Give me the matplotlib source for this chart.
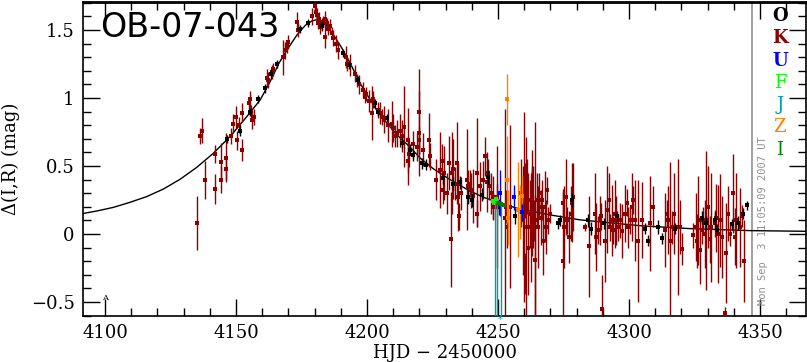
import numpy as np
import matplotlib
matplotlib.use("Agg")
import matplotlib.pyplot as plt
from matplotlib.ticker import MultipleLocator, FuncFormatter

# ---------------- data ----------------
model_t = [4090.5, 4096.8, 4103.2, 4109.5, 4115.9, 4122.3, 4128.6, 4135.0, 4141.3, 4147.7,
           4154.1, 4159.2, 4163.0, 4166.5, 4170.0, 4173.5, 4176.5, 4178.8, 4180.5, 4182.3,
           4184.6, 4187.0, 4190.0, 4193.5, 4197.3, 4200.5, 4203.7, 4207.0, 4210.0, 4213.0,
           4216.4, 4220.2, 4225.3, 4231.7, 4238.0, 4244.4, 4250.8, 4257.1, 4264.8, 4270.0,
           4281.0, 4294.0, 4305.0, 4323.0, 4346.0, 4367.6]
model_m = [0.147, 0.169, 0.196, 0.233, 0.275, 0.331, 0.402, 0.490, 0.593, 0.716,
           0.863, 0.985, 1.12, 1.26, 1.37, 1.47, 1.535, 1.565, 1.575, 1.565,
           1.53, 1.47, 1.38, 1.26, 1.11, 1.01, 0.91, 0.83, 0.76, 0.70,
           0.64, 0.56, 0.48, 0.40, 0.33, 0.27, 0.23, 0.19, 0.16, 0.14,
           0.105, 0.08, 0.06, 0.04, 0.025, 0.02]

K_t = [4135.2, 4136.3, 4137.1, 4138.2, 4142.1, 4142.1, 4144.1, 4144.3, 4146.1, 4146.3,
       4148.1, 4149.0, 4150.0, 4150.3, 4151.3, 4152.2, 4152.2, 4155.1, 4155.3, 4155.7,
       4156.2, 4157.0, 4161.7, 4162.3, 4163.6, 4164.2, 4168.0, 4168.7, 4169.3, 4170.0,
       4173.2, 4173.8, 4180.2, 4180.5, 4180.8, 4181.4, 4181.8, 4182.7, 4183.3, 4184.0,
       4184.6, 4185.2, 4186.5, 4187.1, 4189.0, 4192.0, 4192.5, 4195.4, 4196.1, 4198.6,
       4199.2, 4199.8, 4202.0, 4202.4, 4204.3, 4205.0, 4205.6, 4209.4, 4210.0, 4210.7,
       4211.3, 4212.6, 4214.2, 4215.8, 4215.8, 4216.2, 4219.0, 4219.8, 4220.0, 4220.0,
       4223.8, 4224.0, 4227.9, 4228.5, 4228.9, 4231.4, 4231.9, 4232.3, 4233.6, 4234.2,
       4234.9, 4235.2, 4238.0, 4238.7, 4239.3, 4239.6, 4241.9, 4242.1, 4244.4, 4245.0,
       4246.3, 4246.7, 4248.0, 4248.2, 4249.5, 4249.7, 4252.7, 4253.0, 4253.3, 4254.6,
       4259.9, 4260.3, 4260.7, 4260.3, 4261.6, 4262.2, 4262.8, 4263.5, 4264.1, 4264.8,
       4262.8, 4263.7, 4264.1, 4265.8, 4267.9, 4268.6, 4269.2, 4269.8, 4274.7, 4274.9,
       4275.9, 4276.4, 4277.2, 4278.1, 4278.7, 4283.2, 4284.8, 4287.6, 4288.3, 4288.9,
       4289.5, 4289.9, 4291.7, 4292.7, 4293.4, 4294.0, 4295.0, 4295.9, 4296.5, 4298.5,
       4299.1, 4300.4, 4301.0, 4301.6, 4303.5, 4304.8, 4308.0, 4313.7, 4314.4, 4315.7,
       4316.3, 4318.8, 4319.5, 4320.1, 4324.5, 4326.5, 4327.1, 4327.7, 4328.4, 4329.6,
       4330.9, 4331.5, 4332.8, 4334.1, 4334.7, 4336.8, 4337.0, 4338.5, 4339.8, 4340.5,
       4342.4, 4343.0,
       4258.8, 4259.4, 4261.0, 4261.3, 4262.5, 4263.0, 4265.2, 4265.5, 4266.3, 4267.0,
       4226.5, 4229.5, 4230.5, 4233.0, 4236.0, 4240.5, 4243.0, 4245.8, 4247.2, 4213.5,
       4217.5, 4221.5, 4266.8, 4268.2, 4275.3, 4277.8, 4287.0, 4290.8, 4292.2, 4294.5,
       4297.5, 4299.8, 4302.3, 4309.0, 4314.9, 4317.2, 4325.5, 4326.0, 4328.9, 4330.3,
       4333.3, 4335.5, 4338.0, 4341.0, 4344.0, 4178.9, 4182.2, 4183.8, 4185.8, 4188.0,
       4193.5, 4197.0, 4200.6, 4206.5, 4208.0]
K_m = [0.08, 0.72, 0.76, 0.40, 0.59, 0.33, 0.53, 0.40, 0.56, 0.48,
       0.72, 0.81, 0.86, 0.69, 0.80, 0.62, 0.89, 0.96, 0.99, 0.89,
       0.84, 0.86, 1.15, 1.13, 1.19, 1.21, 1.30, 1.35, 1.38, 1.41,
       1.56, 1.50, 1.68, 1.63, 1.61, 1.55, 1.58, 1.54, 1.56, 1.45,
       1.55, 1.51, 1.48, 1.44, 1.35, 1.30, 1.25, 1.18, 1.13, 1.06,
       1.01, 1.03, 0.89, 0.99, 0.91, 0.89, 0.86, 0.81, 0.78, 0.72,
       0.74, 0.76, 0.79, 0.54, 0.69, 0.59, 0.64, 0.74, 0.90, 0.69,
       0.69, 0.57, 0.47, 0.54, 0.32, 0.52, -0.04, 0.45, 0.37, 0.52,
       0.27, 0.13, 0.40, 0.35, 0.37, 0.32, 0.45, 0.15, 0.40, 0.57,
       0.45, 0.35, 0.27, 0.20, 0.20, 0.27, 0.12, 0.20, 0.05, 0.20,
       0.20, 0.32, 0.05, -0.29, 0.25, 0.15, 0.27, 0.20, 0.10, 0.25,
       0.23, 0.10, -0.19, 0.20, 0.20, 0.32, 0.10, 0.15, -0.20, 0.23,
       0.27, 0.10, -0.02, 0.23, 0.27, 0.05, -0.09, -0.02, 0.03, 0.10,
       0.13, -0.55, 0.18, 0.05, 0.10, 0.03, 0.10, 0.05, 0.10, 0.15,
       0.23, 0.10, 0.20, 0.25, -0.05, 0.10, 0.08, 0.03, 0.15, -0.05,
       0.05, 0.05, 0.05, -0.11, -0.01, 0.10, -0.12, 0.03, 0.10, 0.10,
       -0.04, 0.05, 0.08, 0.00, 0.10, -0.58, -0.14, 0.00, 0.30, -0.02,
       0.05, 0.13,
       0.30, 0.10, 0.35, -0.10, 0.05, 0.35, 0.05, 0.30, 0.12, -0.05,
       0.40, 0.45, 0.30, 0.48, 0.30, 0.28, 0.35, 0.38, 0.30, 0.72,
       0.66, 0.62, 0.25, 0.05, 0.05, 0.15, 0.15, -0.05, 0.25, 0.15,
       0.02, 0.05, 0.10, 0.20, 0.10, 0.15, 0.05, -0.05, 0.00, 0.20,
       0.12, -0.02, 0.15, 0.10, -0.20, 1.60, 1.52, 1.58, 1.53, 1.40,
       1.24, 1.10, 0.98, 0.84, 0.80]
K_e = [0.20, 0.06, 0.09, 0.14, 0.065, 0.11, 0.14, 0.10, 0.18, 0.08,
       0.06, 0.07, 0.08, 0.07, 0.06, 0.08, 0.07, 0.05, 0.06, 0.06,
       0.07, 0.06, 0.06, 0.06, 0.05, 0.05, 0.13, 0.06, 0.05, 0.05,
       0.07, 0.05, 0.05, 0.04, 0.05, 0.04, 0.05, 0.05, 0.04, 0.08,
       0.04, 0.05, 0.04, 0.06, 0.06, 0.08, 0.05, 0.06, 0.05, 0.06,
       0.05, 0.05, 0.20, 0.06, 0.06, 0.08, 0.06, 0.17, 0.10, 0.08,
       0.10, 0.12, 0.30, 0.18, 0.24, 0.10, 0.10, 0.31, 0.31, 0.10,
       0.20, 0.10, 0.28, 0.12, 0.10, 0.20, 0.35, 0.30, 0.12, 0.30,
       0.25, 0.10, 0.37, 0.12, 0.10, 0.13, 0.40, 0.10, 0.14, 0.14,
       0.10, 0.10, 0.16, 0.10, 0.45, 0.10, 0.80, 0.12, 0.15, 0.60,
       0.70, 0.20, 0.66, 0.15, 0.20, 0.25, 0.20, 0.30, 0.72, 0.20,
       0.39, 0.15, 0.48, 0.08, 0.26, 0.10, 0.10, 0.07, 0.51, 0.10,
       0.28, 0.10, 0.19, 0.29, 0.25, 0.03, 0.37, 0.25, 0.10, 0.18,
       0.10, 0.25, 0.32, 0.10, 0.26, 0.10, 0.18, 0.10, 0.13, 0.21,
       0.10, 0.10, 0.25, 0.10, 0.45, 0.28, 0.35, 0.27, 0.10, 0.58,
       0.12, 0.50, 0.20, 0.12, 0.09, 0.33, 0.25, 0.10, 0.10, 0.51,
       0.17, 0.40, 0.10, 0.36, 0.34, 0.04, 0.37, 0.09, 0.29, 0.21,
       0.29, 0.08,
       0.25, 0.40, 0.20, 0.35, 0.40, 0.15, 0.30, 0.15, 0.20, 0.25,
       0.15, 0.20, 0.15, 0.22, 0.12, 0.20, 0.18, 0.22, 0.15, 0.12,
       0.10, 0.12, 0.15, 0.20, 0.30, 0.20, 0.30, 0.30, 0.20, 0.25,
       0.20, 0.15, 0.30, 0.15, 0.25, 0.30, 0.25, 0.20, 0.25, 0.30,
       0.25, 0.30, 0.20, 0.35, 0.30, 0.06, 0.05, 0.06, 0.05, 0.06,
       0.08, 0.07, 0.08, 0.10, 0.12]

O_t = [4146.4, 4151.5, 4155.3, 4158.5, 4161.0, 4163.2, 4165.8, 4174.6, 4177.6, 4183.0,
       4190.7, 4193.2, 4196.7, 4203.0, 4204.3, 4207.5, 4213.4, 4216.4, 4217.7, 4220.9,
       4222.5, 4229.1, 4232.9, 4235.5, 4238.7, 4239.9, 4243.8, 4246.3, 4250.5, 4256.5,
       4273.0, 4273.6, 4278.1, 4284.5, 4285.7, 4290.4, 4295.3, 4306.1, 4307.4, 4311.2,
       4312.5, 4317.6, 4327.7, 4329.6, 4332.8, 4333.5, 4339.2, 4341.5, 4343.4, 4345.2]
O_m = [0.70, 0.76, 0.90, 0.99, 1.07, 1.18, 1.25, 1.51, 1.55, 1.53,
       1.33, 1.24, 1.13, 0.96, 0.90, 0.85, 0.67, 0.62, 0.58, 0.52,
       0.51, 0.41, 0.37, 0.38, 0.27, 0.25, 0.29, 0.42, 0.20, 0.13,
       0.08, 0.10, 0.25, 0.10, 0.04, 0.08, 0.13, 0.04, -0.05, 0.05,
       -0.03, 0.04, 0.12, 0.08, 0.10, 0.03, 0.07, 0.08, 0.15, 0.21]
O_e = [0.03, 0.04, 0.03, 0.03, 0.03, 0.03, 0.03, 0.03, 0.03, 0.03,
       0.03, 0.03, 0.03, 0.03, 0.03, 0.03, 0.04, 0.04, 0.04, 0.04,
       0.04, 0.04, 0.05, 0.05, 0.05, 0.05, 0.05, 0.05, 0.06, 0.06,
       0.04, 0.04, 0.05, 0.05, 0.05, 0.04, 0.04, 0.04, 0.04, 0.05,
       0.04, 0.04, 0.05, 0.05, 0.06, 0.04, 0.04, 0.05, 0.04, 0.03]

Z_t = [4253.5, 4253.6, 4254.0, 4257.8, 4258.4, 4259.2]
Z_m = [0.99, 0.40, 0.12, 0.18, 0.16, 0.28]
Z_e = [0.19, 0.32, 0.20, 0.35, 0.20, 0.15]

U_t = [4250.8, 4256.1, 4259.0]
U_m = [0.30, 0.27, 0.16]
U_e = [0.17, 0.09, 0.06]

F_t = [4248.0, 4249.2]
F_m = [0.24, 0.26]
F_e = [0.02, 0.02]

I_t = [4250.0, 4251.2, 4252.4]
I_m = [0.23, 0.22, 0.21]
I_e = [0.01, 0.01, 0.01]

J_t = [4249.0, 4249.6, 4251.0]
J_m = [-0.72, -0.75, -0.80]
J_e = [0.96, 0.99, 1.04]

legend_labels = ["O", "K", "U", "F", "J", "Z", "I"]
legend_colors = ["#000000", "#8b0000", "#0000ff", "#00ff00", "#00a0a0", "#ff8000", "#008000"]

now_t = 4346.8
stamp = "Mon Sep  3 11:05:09 2007 UT"
anchor_t, anchor_m = [4100.0], [-0.5]

xlim = (4091.6, 4367.6)
ylim = (-0.603, 1.706)

# ---------------- plot ----------------
fig = plt.figure(figsize=(8.07, 3.62), dpi=100)
ax = fig.add_axes([0.1029, 0.127, 0.8959, 0.8675])

serif = "DejaVu Serif"

ax.plot(model_t, model_m, color="black", lw=1.0, zorder=3)

def eb(t, m, e, c, z=4, ms=2.6):
    ax.errorbar(t, m, yerr=e, fmt="s", color=c, ms=ms, mew=0, elinewidth=1.0,
                capsize=2.2, capthick=1.1, zorder=z)

eb(K_t, K_m, K_e, legend_colors[1], z=4)
eb(O_t, O_m, O_e, legend_colors[0], z=5)
eb(Z_t, Z_m, Z_e, legend_colors[5], z=6)
eb(U_t, U_m, U_e, legend_colors[2], z=6)
eb(J_t, J_m, J_e, legend_colors[4], z=6)
eb(F_t, F_m, F_e, legend_colors[3], z=7, ms=3.2)
eb(I_t, I_m, I_e, legend_colors[6], z=7, ms=3.2)

# off-scale marker for J below the axis
ax.text(J_t[-1], -0.012, "*", color=legend_colors[4], fontsize=7,
        transform=ax.get_xaxis_transform(), ha="center", va="center", clip_on=False)

ax.text(anchor_t[0], anchor_m[0] + 0.03, "A", fontsize=6, ha="center", va="center",
        family=serif)

ax.axvline(now_t, color="#909090", lw=1.2, zorder=2)
ax.text(now_t + 4.5, -0.52, stamp, rotation=90, color="#909090", fontsize=7.5,
        family="DejaVu Sans Mono", ha="center", va="bottom")

ax.set_xlim(*xlim)
ax.set_ylim(*ylim)

ax.xaxis.set_major_locator(MultipleLocator(50))
ax.xaxis.set_minor_locator(MultipleLocator(10))
ax.yaxis.set_major_locator(MultipleLocator(0.5))
ax.yaxis.set_minor_locator(MultipleLocator(0.1))
ax.tick_params(which="both", direction="in", top=True, right=True, labelsize=13,
               colors="black")
ax.tick_params(which="major", length=12, width=1.0, pad=6)
ax.tick_params(which="minor", length=6, width=1.0)
for lab in ax.get_xticklabels() + ax.get_yticklabels():
    lab.set_family(serif)

def yfmt(v, p):
    if abs(v) < 1e-9:
        return "0"
    if abs(v - round(v)) < 1e-9:
        return f"{int(round(v))}"
    return f"{v:g}".replace("-", "\u2212")

ax.yaxis.set_major_formatter(FuncFormatter(yfmt))
for s in ax.spines.values():
    s.set_linewidth(1.2)
ax.spines["top"].set_linewidth(2.0)

ax.set_xlabel("HJD \u2212 2450000", family=serif, fontsize=13, labelpad=1)
ax.set_ylabel("\u0394(I,R) (mag)", family=serif, fontsize=13, labelpad=8)

ax.text(0.024, 0.972, "OB-07-043", transform=ax.transAxes, fontsize=24,
        family="DejaVu Sans", ha="left", va="top")

for i, (lab, col) in enumerate(zip(legend_labels, legend_colors)):
    fig.text(780 / 807, 1 - (16 + i * 22.3) / 362, lab, color=col, fontsize=13,
             family=serif, ha="center", va="center", fontweight="bold" if i < 3 else "normal")

fig.savefig("out.png", dpi=100)
